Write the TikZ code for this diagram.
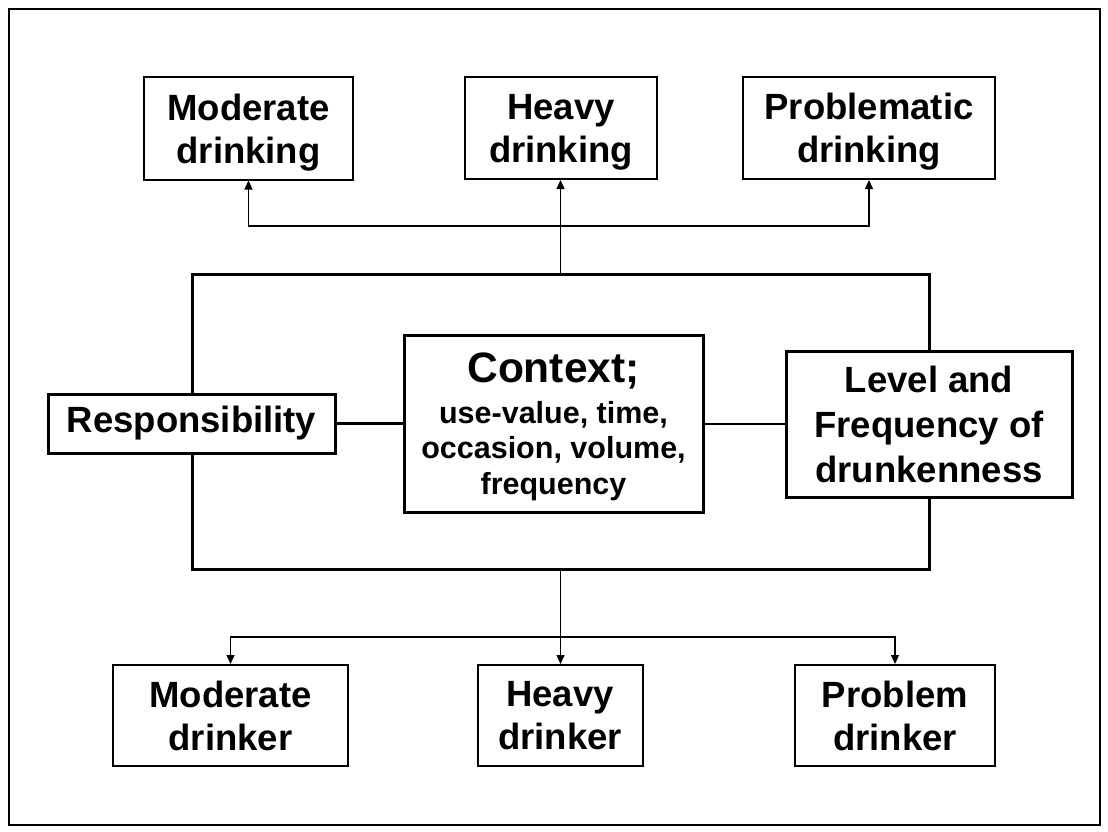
\documentclass[tikz,border=0pt]{standalone}
\usepackage{fontspec}
\setmainfont{Liberation Sans}
\usetikzlibrary{arrows.meta}
\tikzset{
  base/.style={draw, fill=white, inner sep=0pt, align=center, font=\bfseries\fontsize{36.5}{43}\selectfont},
  thinbox/.style={base, line width=2pt},
  thickbox/.style={base, line width=3pt},
  conn/.style={line width=1.3pt},
  link/.style={line width=2.5pt},
  arr/.style={conn, -{Triangle[length=9pt,width=8pt]}}
}
\begin{document}
\begin{tikzpicture}[x=1pt,y=-1pt]
\useasboundingbox (0,0) rectangle (1108,832);
\draw[line width=2pt] (9,9) rectangle (1100,825);
% frame
\node[draw, line width=3pt, inner sep=0pt, minimum width=737pt, minimum height=295pt] (frame) at (560.5,421.5) {};
% top boxes
\node[thinbox, text depth=0pt, minimum width=209pt, minimum height=102pt] (md) at (248.5,128.5) {Moderate\\drinking};
\node[thinbox, text depth=0pt, minimum width=192pt, minimum height=102pt] (hd) at (561,128) {Heavy\\drinking};
\node[thinbox, text depth=0pt, minimum width=252pt, minimum height=102pt] (pd) at (869,128) {Problematic\\drinking};
% middle boxes
\node[thickbox, minimum width=287pt, minimum height=59pt] (resp) at (191.5,423.5) {Responsibility};
\node[thickbox, text depth=0pt, minimum width=299pt, minimum height=177pt, font=\bfseries\fontsize{30.5}{35.5}\selectfont] (ctx) at (553.5,423.5)
  {{\fontsize{42.5}{42.5}\selectfont Context;}\\[5.5pt]use-value, time,\\occasion, volume,\\frequency};
\node[thickbox, minimum width=286pt, minimum height=146pt, font=\bfseries\fontsize{36.5}{45}\selectfont] (lvl) at (929,424) {Level and\\Frequency of\\drunkenness};
% bottom boxes
\node[thinbox, minimum width=235pt, minimum height=101pt] (mdr) at (230.5,715.5) {Moderate\\drinker};
\node[thinbox, minimum width=165pt, minimum height=101pt] (hdr) at (560,715.5) {Heavy\\drinker};
\node[thinbox, minimum width=200pt, minimum height=101pt] (pdr) at (895,715.5) {Problem\\drinker};
% links in the frame
\draw[link] (resp.east) -- (resp.east -| ctx.west);
\draw[link] (ctx.east |- lvl.west) -- (lvl.west);
% top connectors
\coordinate (tj) at (560.5,226);
\draw[arr] (frame.north) -- (frame.north |- hd.south);
\draw[arr] (tj) -| (md.south);
\draw[arr] (tj) -| (pd.south);
% bottom connectors
\coordinate (bj) at (560.5,637);
\draw[arr] (frame.south) -- (frame.south |- hdr.north);
\draw[arr] (bj) -| (mdr.north);
\draw[arr] (bj) -| (pdr.north);
\end{tikzpicture}
\end{document}
